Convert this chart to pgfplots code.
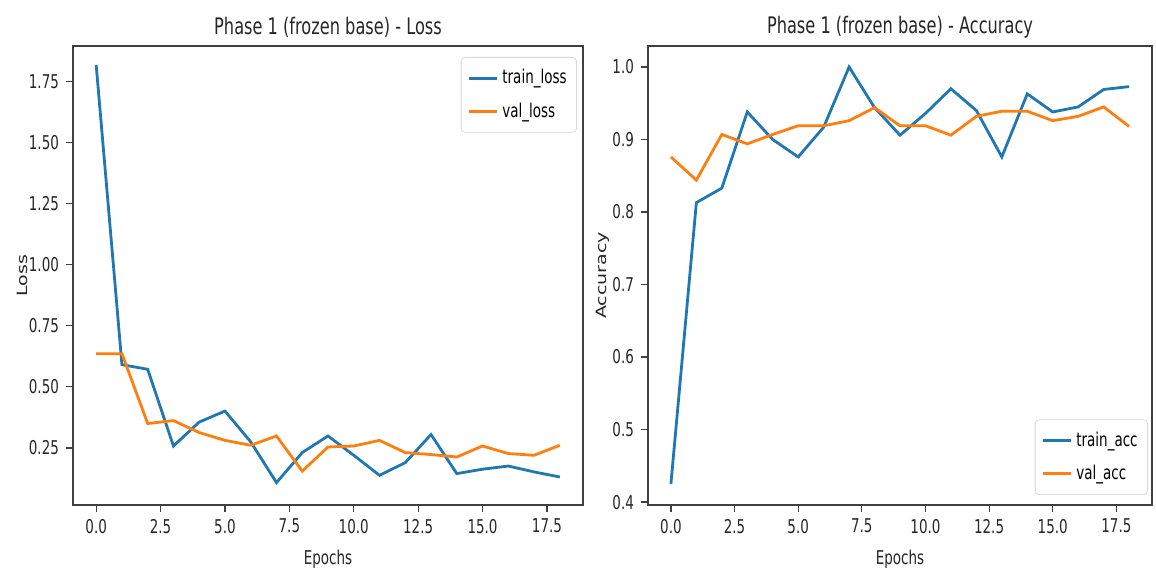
\documentclass[border=0pt]{standalone}
\usepackage{fontspec}
\setmainfont{DejaVu Sans}[FakeStretch=0.71]
\newfontfamily\plainfont{DejaVu Sans}
\usepackage{pgfplots}
\pgfplotsset{compat=1.18}
\definecolor{mplblue}{HTML}{1F77B4}
\definecolor{mplorange}{HTML}{FF7F0E}
\pgfplotsset{
  every axis/.style={
    scale only axis,
    axis line style={black!75, line width=0.7pt},
    tick style={black!75, line width=0.6pt},
    tick align=outside,
    major tick length=3.5pt,
    xtick pos=bottom, ytick pos=left,
    ticklabel style={font=\fontsize{9.5}{11}\selectfont, black!85},
    label style={font=\fontsize{9.5}{11}\selectfont, black!85},
    xlabel style={yshift=-1.5pt},
    title style={font=\fontsize{11.4}{13}\selectfont, black!85, yshift=-5.5pt},
    /pgf/number format/assume math mode=true,
    xmin=-0.9, xmax=18.9,
    xtick={0,2.5,...,17.5},
    xticklabel style={/pgf/number format/.cd, fixed, fixed zerofill, precision=1},
    xlabel={Epochs},
    legend style={font=\fontsize{9.5}{11}\selectfont, draw=black!15, rounded corners=2pt, inner xsep=3pt, inner ysep=4pt, row sep=4pt},
    legend cell align=left,
    legend image code/.code={\draw[##1, line width=1.4pt] (0cm,0cm) -- (0.5cm,0cm);},
  },
}
\begin{document}
\begin{tikzpicture}
\path[use as bounding box] (-36.5pt,-33.5pt) rectangle (541.5pt,252.5pt);
\begin{axis}[
  at={(0pt,0pt)}, anchor=south west,
  width=255pt, height=229.5pt,
  ymin=0.0165, ymax=1.8955,
  ytick={0.25,0.5,...,1.75},
  yticklabel style={/pgf/number format/.cd, fixed, fixed zerofill, precision=2},
  ylabel={\scalebox{1}[0.75]{\plainfont Loss}},
  ylabel style={at={(axis description cs:0,0.5)}, anchor=center, yshift=25.5pt},
  title={Phase 1 (frozen base) - Loss},
  legend style={at={(1,1)}, anchor=north east, xshift=-3pt, yshift=-5.5pt},
]
\addplot[mplblue, line width=1.4pt] coordinates {
(0,1.818) (1,0.591) (2,0.572) (3,0.258) (4,0.356) (5,0.401) (6,0.275) (7,0.108) (8,0.231) (9,0.299) (10,0.220) (11,0.138) (12,0.190) (13,0.305) (14,0.145) (15,0.163) (16,0.176) (17,0.152) (18,0.131)};
\addlegendentry{train\_loss}
\addplot[mplorange, line width=1.4pt] coordinates {
(0,0.636) (1,0.636) (2,0.350) (3,0.362) (4,0.313) (5,0.281) (6,0.261) (7,0.299) (8,0.155) (9,0.254) (10,0.258) (11,0.281) (12,0.231) (13,0.223) (14,0.213) (15,0.258) (16,0.227) (17,0.220) (18,0.261)};
\addlegendentry{val\_loss}
\end{axis}
\begin{axis}[
  at={(287.5pt,0pt)}, anchor=south west,
  width=252pt, height=229.5pt,
  ymin=0.396, ymax=1.029,
  ytick={0.4,0.5,...,1.0},
  yticklabel style={/pgf/number format/.cd, fixed, fixed zerofill, precision=1},
  ylabel={\scalebox{1}[0.75]{\plainfont Accuracy}},
  ylabel style={at={(axis description cs:0,0.5)}, anchor=center, yshift=22.5pt},
  title={Phase 1 (frozen base) - Accuracy},
  legend style={at={(1,0)}, anchor=south east, xshift=-2pt, yshift=5pt},
]
\addplot[mplblue, line width=1.4pt] coordinates {
(0,0.425) (1,0.813) (2,0.833) (3,0.938) (4,0.900) (5,0.876) (6,0.917) (7,1.000) (8,0.944) (9,0.906) (10,0.936) (11,0.970) (12,0.940) (13,0.876) (14,0.963) (15,0.938) (16,0.945) (17,0.969) (18,0.973)};
\addlegendentry{train\_acc}
\addplot[mplorange, line width=1.4pt] coordinates {
(0,0.876) (1,0.844) (2,0.907) (3,0.894) (4,0.907) (5,0.919) (6,0.919) (7,0.926) (8,0.944) (9,0.919) (10,0.919) (11,0.906) (12,0.932) (13,0.939) (14,0.939) (15,0.926) (16,0.932) (17,0.945) (18,0.918)};
\addlegendentry{val\_acc}
\end{axis}
\end{tikzpicture}
\end{document}
